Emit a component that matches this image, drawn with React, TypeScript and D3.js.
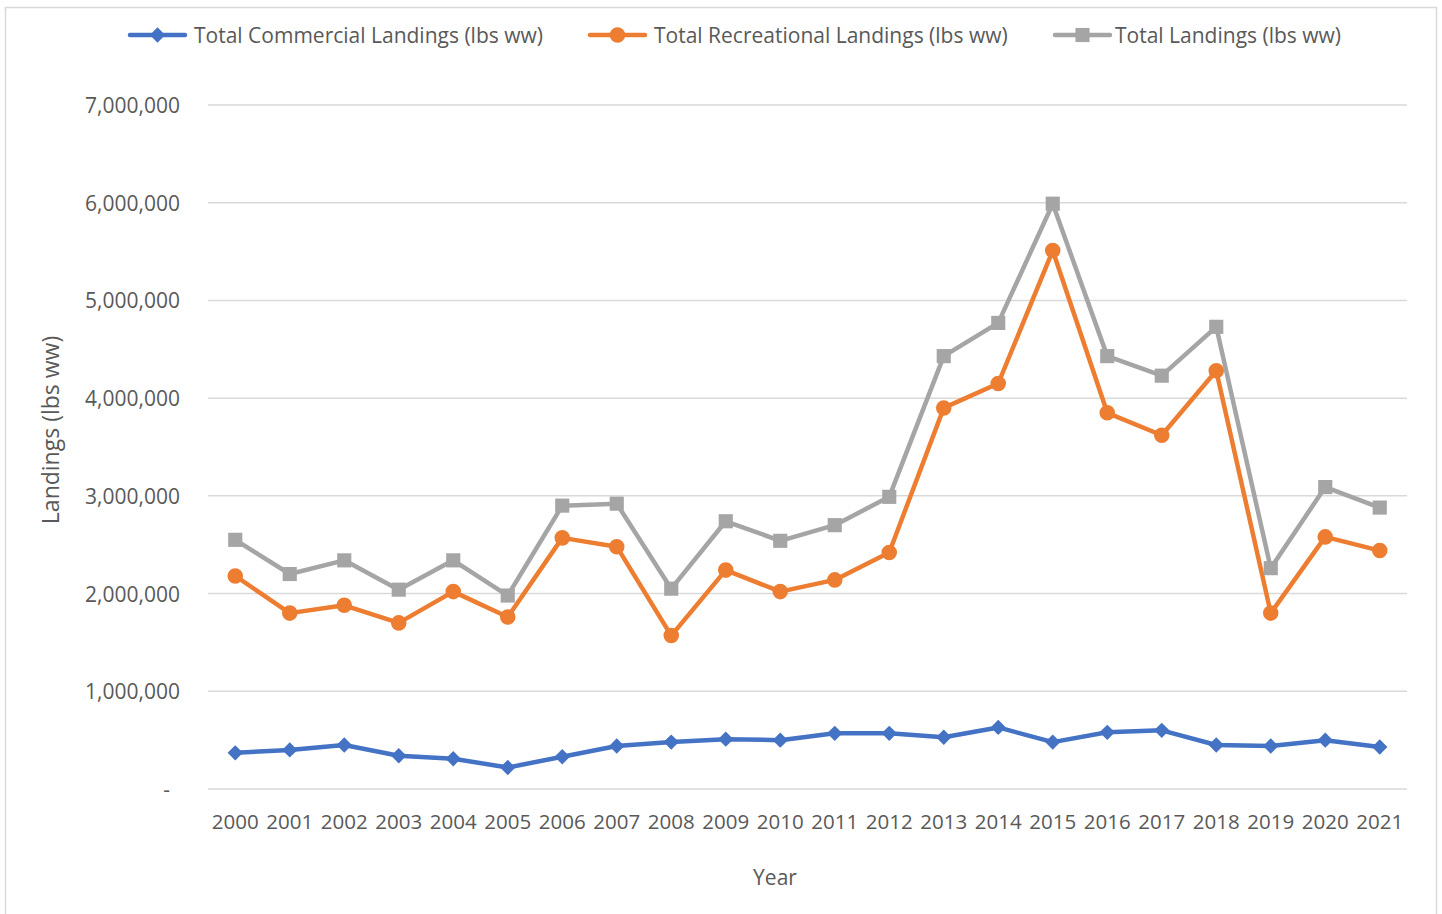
import React from "react";
import * as d3 from "d3";

const years = [
  "2000", "2001", "2002", "2003", "2004", "2005", "2006", "2007", "2008", "2009", "2010",
  "2011", "2012", "2013", "2014", "2015", "2016", "2017", "2018", "2019", "2020", "2021",
];

const commercial = [
  370000, 400000, 450000, 340000, 310000, 220000, 330000, 440000, 480000, 510000, 500000,
  570000, 570000, 530000, 630000, 480000, 580000, 600000, 450000, 440000, 500000, 430000,
];

const recreational = [
  2180000, 1800000, 1880000, 1700000, 2020000, 1760000, 2570000, 2480000, 1570000, 2240000, 2020000,
  2140000, 2420000, 3900000, 4150000, 5510000, 3850000, 3620000, 4280000, 1800000, 2580000, 2440000,
];

const total = [
  2550000, 2200000, 2340000, 2040000, 2340000, 1980000, 2900000, 2920000, 2050000, 2740000, 2540000,
  2700000, 2990000, 4430000, 4770000, 5990000, 4430000, 4230000, 4730000, 2260000, 3090000, 2880000,
];

const yTicks = [0, 1000000, 2000000, 3000000, 4000000, 5000000, 6000000, 7000000];

const series = [
  { name: "Total Commercial Landings (lbs ww)", values: commercial, color: "#4472C4", symbol: d3.symbolDiamond2, size: 150 },
  { name: "Total Recreational Landings (lbs ww)", values: recreational, color: "#ED7D31", symbol: d3.symbolCircle, size: 190 },
  { name: "Total Landings (lbs ww)", values: total, color: "#A5A5A5", symbol: d3.symbolSquare, size: 200 },
];

const W = 1442;
const H = 914;
const FONT = "'Open Sans', sans-serif";
const TEXT = "#595959";

export default function App() {
  const left = 208, right = 1407, top = 105, bottom = 789;

  const x = d3.scaleBand().domain(years).range([left, right]);
  const cx = (yr: string) => (x(yr) as number) + x.bandwidth() / 2;
  const y = d3.scaleLinear().domain([0, 7000000]).range([bottom, top]);

  const fmt = d3.format(",");
  const line = d3
    .line<number>()
    .x((_, i) => cx(years[i]))
    .y((d) => y(d));

  // legend layout
  const legendItems = [
    { x0: 130, tx: 194 },
    { x0: 590, tx: 654 },
    { x0: 1055, tx: 1115 },
  ];

  return (
    <svg width={W} height={H} style={{ position: "absolute", left: 0, top: 0 }} fontFamily={FONT}>
      <rect x={0} y={0} width={W} height={H} fill="#fff" />
      <rect x={5.5} y={7.5} width={1431} height={920} fill="none" stroke="#D9D9D9" strokeWidth={1.5} />

      {/* gridlines */}
      {yTicks.map((t) => (
        <line key={t} x1={left} x2={right} y1={y(t)} y2={y(t)} stroke="#D9D9D9" strokeWidth={1.5} />
      ))}

      {/* y tick labels */}
      {yTicks.map((t) => (
        <text
          key={"l" + t}
          x={t === 0 ? 170 : 180}
          y={y(t)}
          textAnchor="end"
          dominantBaseline="central"
          fontSize={21}
          fill={TEXT}
        >
          {t === 0 ? "-" : fmt(t)}
        </text>
      ))}

      {/* x tick labels */}
      {years.map((yr) => (
        <text key={yr} x={cx(yr)} y={821} textAnchor="middle" dominantBaseline="central" fontSize={20.5} fill={TEXT}>
          {yr}
        </text>
      ))}

      {/* axis titles */}
      <text x={775} y={877} textAnchor="middle" dominantBaseline="central" fontSize={21} fill={TEXT}>
        Year
      </text>
      <text
        transform={`translate(50, 430) rotate(-90)`}
        textAnchor="middle"
        dominantBaseline="central"
        fontSize={23}
        fill={TEXT}
      >
        Landings (lbs ww)
      </text>

      {/* series */}
      {series.map((s) => (
        <g key={s.name}>
          <path d={line(s.values) as string} fill="none" stroke={s.color} strokeWidth={4.5} strokeLinejoin="round" />
          {s.values.map((v, i) => (
            <path
              key={i}
              transform={`translate(${cx(years[i])}, ${y(v)})`}
              d={d3.symbol().type(s.symbol).size(s.size)() as string}
              fill={s.color}
            />
          ))}
        </g>
      ))}

      {/* legend */}
      {series.map((s, i) => {
        const it = legendItems[i];
        return (
          <g key={"lg" + i}>
            <line x1={it.x0} x2={it.x0 + 55} y1={35} y2={35} stroke={s.color} strokeWidth={4.5} strokeLinecap="round" />
            <path
              transform={`translate(${it.x0 + 27.5}, 35)`}
              d={d3.symbol().type(s.symbol).size(s.size)() as string}
              fill={s.color}
            />
            <text x={it.tx} y={35} dominantBaseline="central" fontSize={21} fill={TEXT}>
              {s.name}
            </text>
          </g>
        );
      })}
    </svg>
  );
}
